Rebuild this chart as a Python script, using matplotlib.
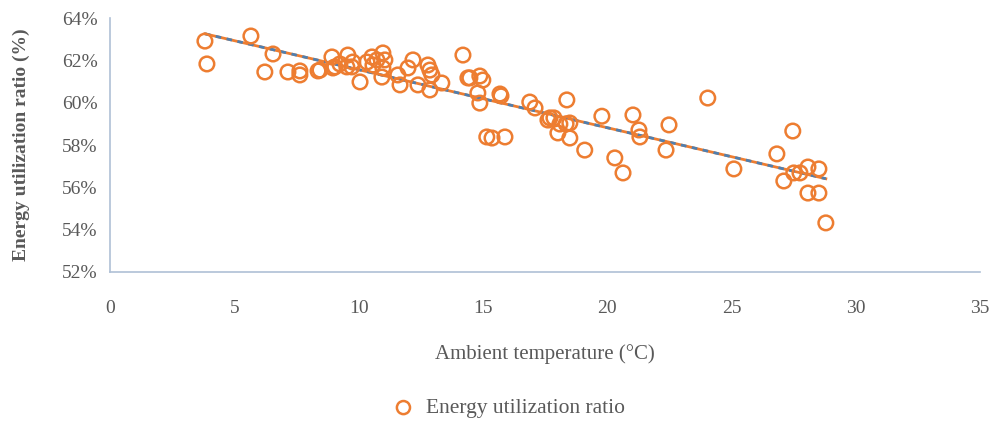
import numpy as np
import matplotlib
matplotlib.use("Agg")
import matplotlib.pyplot as plt
from matplotlib.ticker import FuncFormatter

# ambient temperature (deg C) and energy utilization ratio (%)
temp = [3.82, 3.90, 5.67, 6.23, 6.56, 7.16, 7.64, 7.64, 8.37, 8.45,
        8.93, 8.97, 9.05, 9.25, 9.57, 9.53, 9.77, 9.73, 10.06, 10.34,
        10.54, 10.58, 10.74, 10.98, 11.06, 10.98, 10.94, 11.58, 11.67, 11.99,
        12.19, 12.39, 12.79, 12.87, 12.95, 12.87, 13.35, 14.20, 14.40, 14.48,
        14.88, 15.00, 14.80, 14.88, 15.69, 15.73, 16.89, 17.10, 17.62, 15.16,
        15.37, 15.89, 18.38, 17.70, 17.86, 18.10, 18.35, 18.50, 18.02, 18.50,
        19.10, 19.79, 20.31, 20.64, 21.04, 21.28, 21.32, 22.49, 22.37, 24.05,
        25.10, 27.47, 26.83, 27.11, 27.51, 27.76, 28.08, 28.52, 28.08, 28.52,
        28.80]
ratio = [62.91, 61.83, 63.15, 61.45, 62.30, 61.45, 61.50, 61.31, 61.50, 61.54,
         62.16, 61.64, 61.69, 61.83, 62.25, 61.69, 61.92, 61.69, 60.98, 61.92,
         62.16, 61.78, 62.02, 62.35, 62.02, 61.64, 61.21, 61.31, 60.84, 61.64,
         62.02, 60.84, 61.78, 61.54, 61.31, 60.60, 60.93, 62.25, 61.17, 61.17,
         61.26, 61.07, 60.46, 59.98, 60.41, 60.32, 60.03, 59.75, 59.18, 58.38,
         58.33, 58.38, 60.13, 59.28, 59.28, 58.99, 59.00, 59.04, 58.57, 58.33,
         57.76, 59.36, 57.39, 56.68, 59.42, 58.71, 58.38, 58.95, 57.76, 60.22,
         56.87, 58.66, 57.58, 56.30, 56.68, 56.68, 56.96, 56.87, 55.73, 55.73,
         54.32]

orange = "#ED7D31"
grey = "#595959"
plt.rcParams["font.family"] = ["Liberation Serif", "DejaVu Serif"]

x = np.array(temp)
y = np.array(ratio) / 100

fig = plt.figure(figsize=(9.97, 4.23), dpi=100)
ax = fig.add_axes([0.1103, 0.357, 0.8726, 0.6004])

ax.scatter(x, y, s=110, facecolors="none", edgecolors=orange, linewidths=1.8,
           label="Energy utilization ratio", zorder=3)

# linear trendline
k, b = np.polyfit(x, y, 1)
xt = np.array([x.min(), x.max()])
ax.plot(xt, k * xt + b, color=orange, lw=2, zorder=2)
ax.plot(xt, k * xt + b, color="#4F7FAF", lw=2, ls=(0, (2, 2)), zorder=2)

ax.set_xlim(0, 35)
ax.set_ylim(0.52, 0.64)
ax.set_xticks(range(0, 36, 5))
ax.set_yticks(np.arange(0.52, 0.6401, 0.02))
ax.yaxis.set_major_formatter(FuncFormatter(lambda v, p: f"{v*100:.0f}%"))
ax.tick_params(length=0, labelsize=14, labelcolor=grey)
ax.tick_params(axis="x", pad=20)
ax.tick_params(axis="y", pad=9)

for s in ["top", "right"]:
    ax.spines[s].set_visible(False)
for s in ["left", "bottom"]:
    ax.spines[s].set_color("#AFC0D6")
    ax.spines[s].set_linewidth(1.2)

ax.set_xlabel("Ambient temperature (°C)", fontsize=15, color=grey, labelpad=20)
ax.set_ylabel("Energy utilization ratio (%)", fontsize=14, color=grey,
              fontweight="bold", labelpad=23)

fig.legend(loc="center", bbox_to_anchor=(0.505, 0.035), frameon=False,
           fontsize=15.5, labelcolor=grey, handletextpad=0.05, markerscale=0.9)

fig.savefig("out.png", dpi=100)
